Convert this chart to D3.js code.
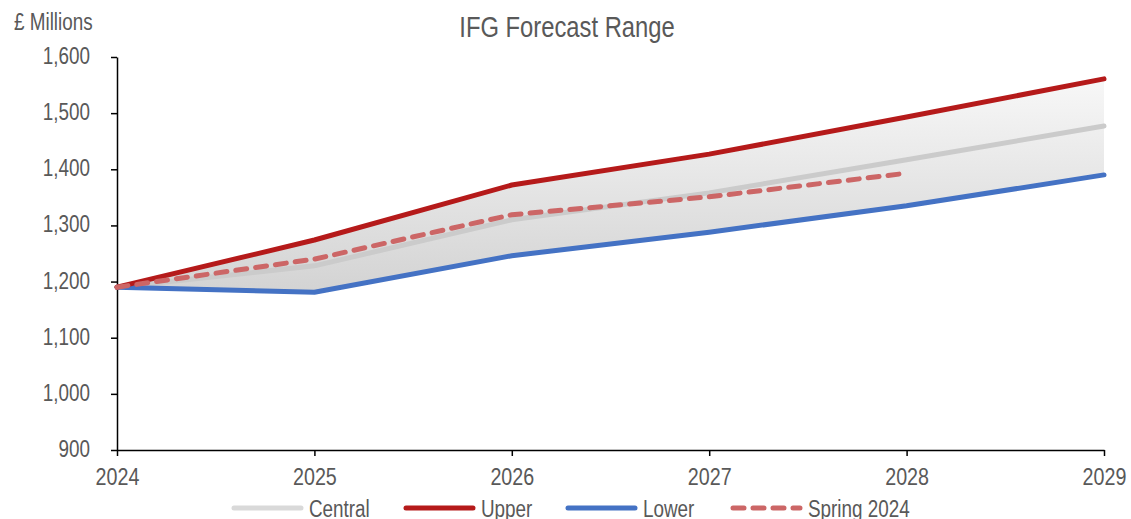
<!DOCTYPE html>
<html>
<head>
<meta charset="utf-8">
<script src="https://cdn.jsdelivr.net/npm/d3@7"></script>
<style>
  html, body { margin: 0; padding: 0; background: #fff; }
  svg text { font-family: "Liberation Sans", Arial, sans-serif; fill: #595959; }
</style>
</head>
<body>
<svg id="chart" width="1131" height="519"></svg>
<script>
// Forecast years and series (£ millions)
const years = [2024, 2025, 2026, 2027, 2028, 2029];
const central = [1190, 1228, 1310, 1358, 1417, 1477];
const upper = [1190, 1274, 1372, 1427, 1493, 1561];
const lower = [1190, 1181, 1246, 1288, 1335, 1390];
const spring2024 = [1190, 1240, 1319, 1351, 1393];
const yTicks = [900, 1000, 1100, 1200, 1300, 1400, 1500, 1600];

const svg = d3.select("#chart");
const margin = { left: 117, right: 27, top: 57, bottom: 69 };
const W = 1131, H = 519;

const x = d3.scaleLinear().domain([2024, 2029]).range([margin.left, W - margin.right]);
const y = d3.scaleLinear().domain([900, 1600]).range([H - margin.bottom, margin.top]);

// Shaded range band gradient
const defs = svg.append("defs");
const grad = defs.append("linearGradient")
  .attr("id", "bandFill")
  .attr("gradientUnits", "userSpaceOnUse")
  .attr("x1", 0).attr("x2", 0)
  .attr("y1", y(1600)).attr("y2", y(1180));
grad.append("stop").attr("offset", 0).attr("stop-color", "#fbfbfb");
grad.append("stop").attr("offset", 1).attr("stop-color", "#d3d3d3");

const band = years.map((yr, i) => ({ yr, hi: upper[i], lo: lower[i] }));
svg.append("path")
  .datum(band)
  .attr("fill", "url(#bandFill)")
  .attr("d", d3.area().x(d => x(d.yr)).y0(d => y(d.lo)).y1(d => y(d.hi)));

// Axes
const yAxis = svg.append("g")
  .attr("transform", `translate(${margin.left},0)`)
  .call(d3.axisLeft(y).tickValues(yTicks).tickFormat(d3.format(",")).tickSize(6).tickSizeOuter(0).tickPadding(21));
const xAxis = svg.append("g")
  .attr("transform", `translate(0,${y(900)})`)
  .call(d3.axisBottom(x).tickValues(years).tickFormat(d3.format("d")).tickSize(6).tickSizeOuter(0).tickPadding(12));
[yAxis, xAxis].forEach(g => {
  g.select(".domain").attr("stroke", "#000").attr("stroke-width", 1.5);
  g.selectAll(".tick line").attr("stroke", "#000").attr("stroke-width", 1.5);
});
yAxis.selectAll(".tick text").attr("font-size", 23).attr("dy", "0.28em").style("fill", "#595959");
xAxis.selectAll(".tick text").attr("font-size", 24).style("fill", "#595959");

// Lines
const series = [
  { name: "Central", vals: central, color: "#cbcbcb", dash: null },
  { name: "Lower", vals: lower, color: "#4472c4", dash: null },
  { name: "Upper", vals: upper, color: "#b51a1a", dash: null },
  { name: "Spring 2024", vals: spring2024, color: "#cc6666", dash: "11 9" }
];
const line = d3.line().x((d, i) => x(years[i])).y(d => y(d));
series.forEach(s => {
  svg.append("path")
    .datum(s.vals)
    .attr("fill", "none")
    .attr("stroke", s.color)
    .attr("stroke-width", 5)
    .attr("stroke-linecap", "round")
    .attr("stroke-linejoin", "round")
    .attr("stroke-dasharray", s.dash)
    .attr("d", line);
});

// Title and unit label
svg.append("text").attr("x", 567).attr("y", 37).attr("text-anchor", "middle")
  .attr("font-size", 29).text("IFG Forecast Range");
svg.append("text").attr("x", 14).attr("y", 30).attr("font-size", 23).text("£ Millions");

// Legend
const legend = [
  { name: "Central", color: "#d9d9d9", dash: null, x0: 232 },
  { name: "Upper", color: "#b51a1a", dash: null, x0: 404 },
  { name: "Lower", color: "#4472c4", dash: null, x0: 566 },
  { name: "Spring 2024", color: "#cc6666", dash: "11 9", x0: 731 }
];
const ly = 508;
legend.forEach(l => {
  svg.append("line")
    .attr("x1", l.x0 + 2).attr("x2", l.x0 + 69)
    .attr("y1", ly).attr("y2", ly)
    .attr("stroke", l.color).attr("stroke-width", 5)
    .attr("stroke-linecap", "round")
    .attr("stroke-dasharray", l.dash);
  svg.append("text").attr("x", l.x0 + 77).attr("y", ly + 9)
    .attr("font-size", 23).text(l.name);
});

// Condensed lettering: narrow every label horizontally
svg.selectAll("text").each(function () {
  const len = this.getComputedTextLength();
  d3.select(this).attr("textLength", len * 0.82).attr("lengthAdjust", "spacingAndGlyphs");
});
</script>
</body>
</html>
